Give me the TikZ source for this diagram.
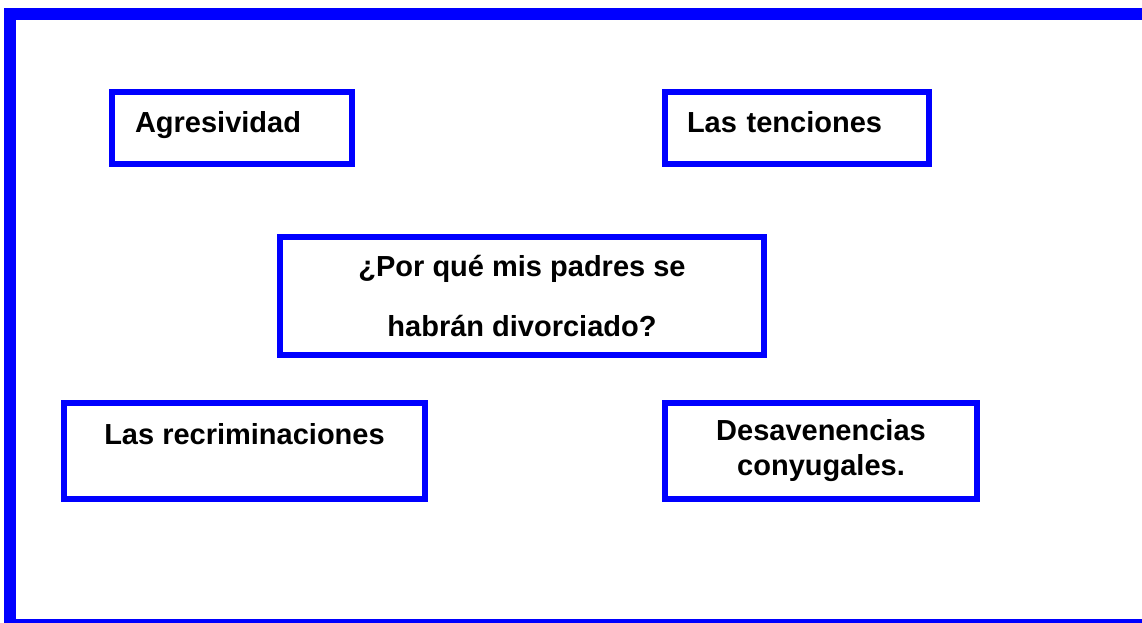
\documentclass[tikz,border=0pt]{standalone}
\usepackage{fontspec}
\setmainfont{Liberation Sans}
\usetikzlibrary{positioning}
\tikzset{marco/.style={draw=blue, line width=12pt},
  caja/.style={draw=blue, line width=6pt, rectangle, inner sep=0pt, align=center, text=black, font=\fontsize{29}{35}\selectfont\bfseries},
  arriba/.style={caja, minimum height=72pt, align=left, text depth=13pt}}

\begin{document}
\begin{tikzpicture}[x=1pt,y=-1pt]
    \useasboundingbox (0,0) rectangle (1142,623);
    \clip (0,0) rectangle (1142,623);
    \draw[marco] (10,14) rectangle (1160,625);
    \node[arriba, minimum width=240pt, text width=194pt, inner xsep=23pt] (agresividad) at (232,128) {Agresividad};
    \node[arriba, minimum width=264pt, text width=220pt, inner xsep=22pt] (tensiones) at (797,128) {Las tenciones};
    \node[caja, minimum width=484pt, minimum height=118pt, font=\fontsize{29}{60}\selectfont\bfseries] (pregunta) at (522,296) {¿Por qué mis padres se\\habrán divorciado?};
    \node[caja, minimum width=361pt, minimum height=96pt, text depth=35pt] (recriminaciones) at (244.5,451) {Las recriminaciones};
    \node[caja, minimum width=312pt, minimum height=96pt] (desavenencias) at (821,451) {Desavenencias\\conyugales.};
\end{tikzpicture}
\end{document}
